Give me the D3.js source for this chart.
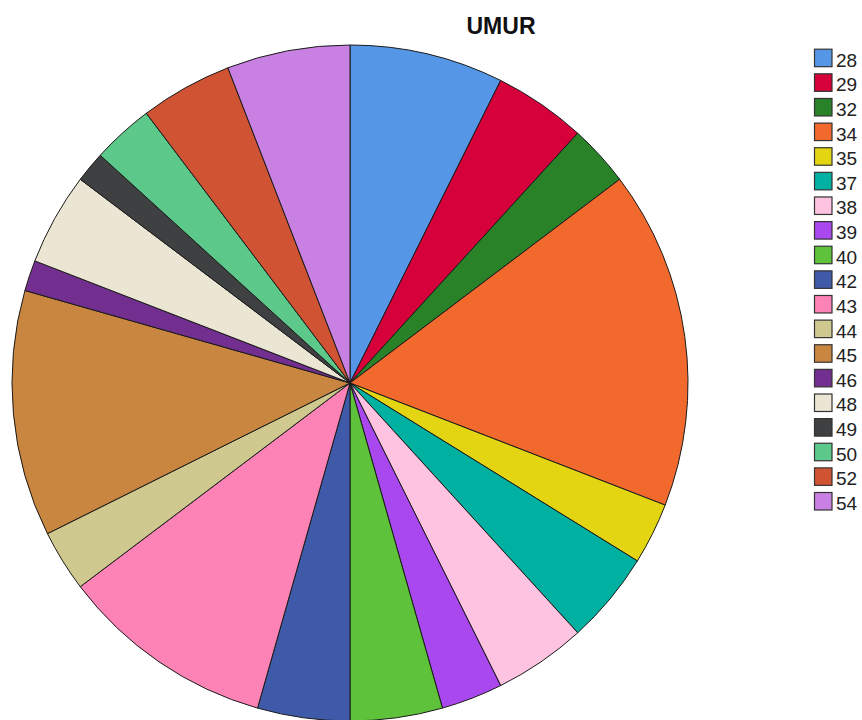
<!DOCTYPE html>
<html>
<head>
<meta charset="utf-8">
<script src="https://cdn.jsdelivr.net/npm/d3@7"></script>
<style>
  html, body { margin: 0; padding: 0; background: #fff; }
  svg { display: block; }
</style>
</head>
<body>
<svg id="chart" width="862" height="720"></svg>
<script>
// Age categories (UMUR) and their frequencies
const categories = ["28","29","32","34","35","37","38","39","40","42","43","44","45","46","48","49","50","52","54"];
const counts     = [5, 3, 2, 11, 2, 3, 3, 2, 3, 3, 7, 2, 8, 1, 3, 1, 2, 3, 4];
const colors     = ["#5596e6","#d6003a","#2a8228","#f2692d","#e3d512","#00b0a0","#fdc3e0","#a948ef",
                    "#5ec23b","#3f5aa8","#fd83b6","#d0c98f","#c98641","#732f8f","#ebe5d3","#3f4042",
                    "#5cc98b","#d05433","#c881e3"];
const title = "UMUR";

const svg = d3.select("#chart");
const cx = 350, cy = 383, radius = 338;

const data = categories.map((c, i) => ({ cat: c, value: counts[i], color: colors[i] }));

const pie = d3.pie().value(d => d.value).sort(null);
const arc = d3.arc().innerRadius(0).outerRadius(radius);

const g = svg.append("g").attr("transform", `translate(${cx},${cy})`);
g.selectAll("path")
  .data(pie(data))
  .join("path")
  .attr("d", arc)
  .attr("fill", d => d.data.color)
  .attr("stroke", "#1a1a1a")
  .attr("stroke-width", 1)
  .attr("stroke-linejoin", "round");

// Title
svg.append("text")
  .attr("x", 501).attr("y", 34)
  .attr("text-anchor", "middle")
  .attr("font-family", "Liberation Sans, Arial, sans-serif")
  .attr("font-weight", "bold")
  .attr("font-size", 23)
  .attr("fill", "#111")
  .text(title);

// Legend
const legendY = d3.scalePoint().domain(categories).range([57.7, 501]);
const legend = svg.append("g");
const items = legend.selectAll("g")
  .data(data)
  .join("g")
  .attr("transform", d => `translate(814,${legendY(d.cat)})`);
items.append("rect")
  .attr("x", 0.5).attr("y", -8.5)
  .attr("width", 17.5).attr("height", 17.5)
  .attr("fill", d => d.color)
  .attr("stroke", "#333")
  .attr("stroke-width", 1.2);
items.append("text")
  .attr("x", 22).attr("y", 9)
  .attr("font-family", "Liberation Sans, Arial, sans-serif")
  .attr("font-size", 19)
  .attr("fill", "#222")
  .text(d => d.cat);
</script>
</body>
</html>
